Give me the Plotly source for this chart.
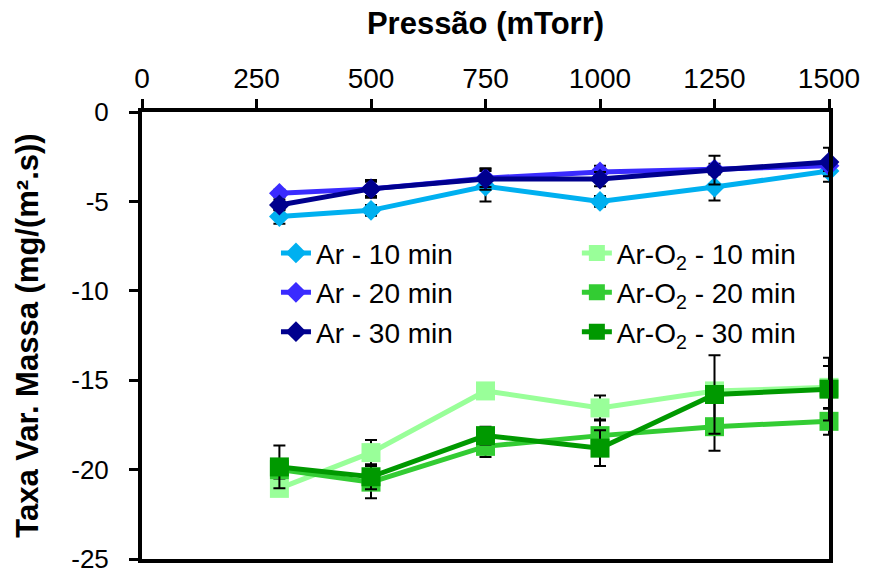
import plotly.graph_objects as go

pressure = [300, 500, 750, 1000, 1250, 1500]

ar10 = [-5.85, -5.5, -4.15, -5.0, -4.2, -3.3]
ar10_err = [0.4, 0.3, 0.85, 0.3, 0.75, 0.6]
ar20 = [-4.55, -4.3, -3.7, -3.35, -3.2, -3.0]
ar20_err = [0.2, 0.4, 0.5, 0.35, 0.3, 0.3]
ar30 = [-5.2, -4.3, -3.75, -3.75, -3.25, -2.8]
ar30_err = [0.3, 0.5, 0.6, 0.4, 0.8, 0.8]

aro10 = [-21.05, -19.05, -15.6, -16.55, -15.6, -15.4]
aro10_err = [0.3, 0.7, 0.3, 0.7, 0.3, 1.2]
aro20 = [-20.0, -20.7, -18.7, -18.1, -17.6, -17.3]
aro20_err = [0.5, 0.9, 0.6, 0.9, 1.35, 0.75]
aro30 = [-19.85, -20.4, -18.1, -18.8, -15.8, -15.5]
aro30_err = [1.2, 0.7, 0.5, 1.0, 2.2, 1.75]

names = ["Ar - 10 min", "Ar - 20 min", "Ar - 30 min",
         "Ar-O<sub>2</sub> - 10 min", "Ar-O<sub>2</sub> - 20 min", "Ar-O<sub>2</sub> - 30 min"]
colors = ["#00B0F0", "#3A2BFF", "#00008E", "#99FF99", "#33CC33", "#009900"]

x_ticks = [0, 250, 500, 750, 1000, 1250, 1500]
y_ticks = [0, -5, -10, -15, -20, -25]
y_tick_text = ["0", "-5", "-10", "-15", "-20", "-25"]

series = [ar10, ar20, ar30, aro10, aro20, aro30]
errs = [ar10_err, ar20_err, ar30_err, aro10_err, aro20_err, aro30_err]

fig = go.Figure()
for i, (ys, es) in enumerate(zip(series, errs)):
    is_ar = i < 3
    fig.add_trace(go.Scatter(
        x=pressure, y=ys, name=names[i], mode="lines+markers",
        line=dict(color=colors[i], width=5),
        marker=dict(symbol="diamond" if is_ar else "square",
                    size=16 if is_ar else 19, color=colors[i]),
        error_y=dict(type="data", array=es, visible=True, color="black",
                     thickness=2, width=6),
        cliponaxis=False,
        legend="legend" if is_ar else "legend2",
    ))

font = "Arial, Liberation Sans, sans-serif"
leg = dict(xanchor="left", yanchor="top", y=0.74,
           bgcolor="rgba(0,0,0,0)", font=dict(size=28), tracegroupgap=0,
           itemwidth=30)
fig.update_layout(
    width=869, height=575,
    margin=dict(l=142, r=40, t=112, b=16, autoexpand=False),
    paper_bgcolor="white", plot_bgcolor="white",
    font=dict(family=font, size=26, color="black"),
    showlegend=True,
    legend=dict(x=0.195, **leg),
    legend2=dict(x=0.633, **leg),
    xaxis=dict(
        side="top", range=[0, 1500], tickvals=x_ticks,
        showline=True, linecolor="black", linewidth=4, mirror=True,
        ticks="outside", ticklen=9, tickwidth=3, tickcolor="black",
        showgrid=False, zeroline=False, automargin=False,
        tickfont=dict(size=28), ticklabeloverflow="allow",
        title=dict(text="<b>Pressão (mTorr)</b>", font=dict(size=31), standoff=20),
    ),
    yaxis=dict(
        range=[-25, 0], tickvals=y_ticks, ticktext=y_tick_text,
        showline=True, linecolor="black", linewidth=4, mirror=True,
        ticks="outside", ticklen=9, tickwidth=3, tickcolor="black",
        showgrid=False, zeroline=False, automargin=False,
        tickfont=dict(size=26), ticklabeloverflow="allow", ticklabelstandoff=15,
        title=dict(text="<b>Taxa Var. Massa (mg/(m².s))</b>", font=dict(size=31), standoff=24),
    ),
)

fig.write_html("out.html")
